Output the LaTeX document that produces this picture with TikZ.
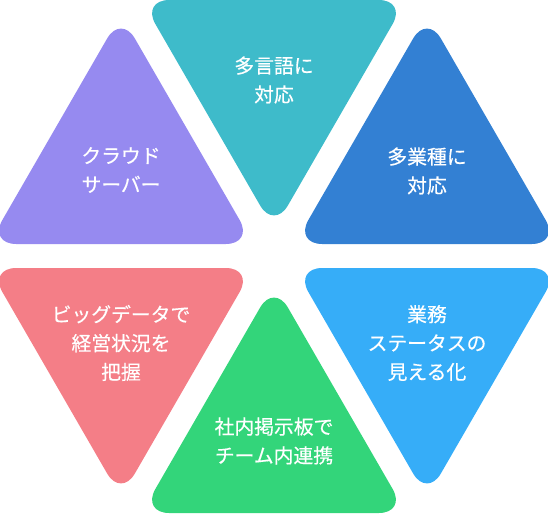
\documentclass[tikz,border=0pt]{standalone}
\usepackage{fontspec}
\newfontfamily\jpfont[FakeBold=0.4]{Noto Sans CJK JP}
\usepackage{tikz}

\definecolor{tealtri}{HTML}{3EBBCA}
\definecolor{purpletri}{HTML}{968AF0}
\definecolor{bluetri}{HTML}{3380D3}
\definecolor{pinktri}{HTML}{F47E87}
\definecolor{greentri}{HTML}{33D57A}
\definecolor{skytri}{HTML}{36ADF8}

\tikzset{
    tri/.style={rounded corners=27.7pt},
    tritext/.style={text=white, align=center, inner sep=0pt,
        font=\jpfont\fontsize{19.8}{28.8}\selectfont}
}

\begin{document}
\begin{tikzpicture}[x=1pt, y=-1pt]
            \def\W{132.5}   % half side
            \def\H{229.5}   % height

            \useasboundingbox (0,0) rectangle (548,514);

            % Triangles pointing down (x, top edge)
            \foreach \x/\y/\c in {274/0/tealtri, 121/268/pinktri, 427/268/skytri} {
                \fill[tri, \c] (\x,\y) -- (\x+\W,\y) -- (\x,\y+\H) -- (\x-\W,\y) -- cycle;
            }

            % Triangles pointing up (x, base edge)
            \foreach \x/\y/\c in {121/244/purpletri, 427/244/bluetri, 274/513/greentri} {
                \fill[tri, \c] (\x,\y) -- (\x+\W,\y) -- (\x,\y-\H) -- (\x-\W,\y) -- cycle;
            }

            % Labels
            \node[tritext] (lang)  at (274,80)  {多言語に\\対応};
            \node[tritext] (cloud) at (121,170) {クラウド\\サーバー};
            \node[tritext] (trade) at (427,171) {多業種に\\対応};
            \node[tritext] (data)  at (121,343) {ビッグデータで\\経営状況を\\把握};
            \node[tritext] (board) at (274,441) {社内掲示板で\\チーム内連携};
            \node[tritext] (task)  at (427,343) {業務\\ステータスの\\見える化};
        \end{tikzpicture}
\end{document}
